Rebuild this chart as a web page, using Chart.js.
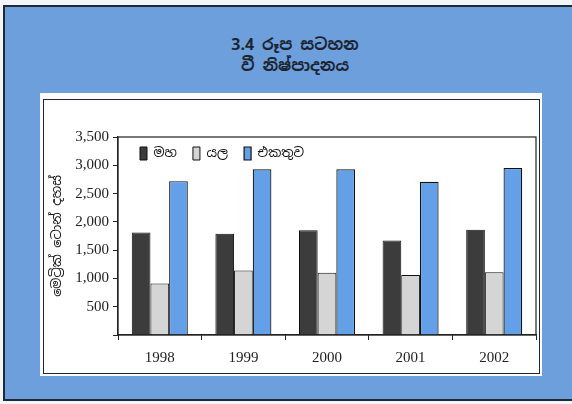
<!DOCTYPE html>
<html>
<head>
<meta charset="utf-8">
<script src="https://cdn.jsdelivr.net/npm/chart.js@4.4.0/dist/chart.umd.min.js"></script>
<style>
  body { margin: 0; background: #f3f5f7; }
  #page { position: relative; width: 572px; height: 404px; overflow: hidden; }
  #frame { position: absolute; left: 3px; top: 5px; width: 567px; height: 392px;
           border: 2px solid #1f2937; border-right: none; background: #6c9fdc; }
  #title { position: absolute; left: 0; top: 34px; width: 590px; text-align: center;
           font: bold 16px 'Noto Sans Sinhala', 'Noto Sans', sans-serif; color: #1d2430; line-height: 21px; }
  #paper { position: absolute; left: 40px; top: 93px; width: 502px; height: 283px; background: #fdfdfd; }
  #box { position: absolute; left: 43px; top: 99px; width: 495px; height: 273px; overflow: hidden;
         border: 1.5px solid #1c2836; background: #fff; }
  canvas { position: absolute; left: 0; top: -6px; }
</style>
</head>
<body>
<div id="page">
  <div id="frame"></div>
  <div id="title">3.4 රූප සටහන<br>වී නිෂ්පාදනය</div>
  <div id="paper"></div>
  <div id="box"><canvas id="canvas" width="495" height="279"></canvas></div>
</div>
<script>
var years = ['1998', '1999', '2000', '2001', '2002'];
var maha = [1810, 1790, 1850, 1670, 1860];
var yala = [910, 1140, 1100, 1060, 1110];
var ekathuwa = [2720, 2930, 2930, 2710, 2950];
var yTicks = [0, 500, 1000, 1500, 2000, 2500, 3000, 3500];

var sinhala = "'Noto Sans Sinhala', 'Noto Sans', sans-serif";
var serif = "'Liberation Serif', 'DejaVu Serif', serif";

// box round the plot, legend pushed down inside it
var frameBox = {
  id: 'frameBox',
  afterLayout: function (chart) {
    var lg = chart.legend, a = chart.chartArea;
    var h = lg.bottom - lg.top;
    lg.left = a.left + 6;
    lg.top = a.top - 6;
    lg.bottom = lg.top + h;
  },
  afterDraw: function (chart) {
    var a = chart.chartArea, ctx = chart.ctx;
    ctx.save();
    ctx.strokeStyle = '#222';
    ctx.lineWidth = 1.2;
    ctx.strokeRect(a.left, a.top, a.right - a.left, a.bottom - a.top);
    ctx.restore();
  }
};

var canvas = document.getElementById('canvas');
var chart = new Chart(canvas, {
  type: 'bar',
  data: {
    labels: years,
    datasets: [
      { label: 'මහ', data: maha, backgroundColor: '#3c3c3c', borderColor: '#111', borderWidth: 1 },
      { label: 'යල', data: yala, backgroundColor: '#d5d5d5', borderColor: '#111', borderWidth: 1 },
      { label: 'එකතුව', data: ekathuwa, backgroundColor: '#63a0e8', borderColor: '#111', borderWidth: 1.2 }
    ]
  },
  options: {
    responsive: false,
    animation: false,
    layout: { padding: { top: 4, right: 3, left: 0, bottom: 0 } },
    datasets: { bar: { categoryPercentage: 0.67, barPercentage: 1.0 } },
    plugins: {
      legend: {
        position: 'top',
        align: 'start',
        labels: { boxWidth: 7, boxHeight: 13, padding: 16, color: '#111',
                  font: { family: sinhala, size: 13 } }
      },
      tooltip: { enabled: false }
    },
    scales: {
      x: {
        grid: { drawOnChartArea: false, tickLength: 5, color: '#222' },
        border: { color: '#222', width: 1.2 },
        ticks: { color: '#222', padding: 9, font: { family: serif, size: 15 } },
        afterFit: function (s) { s.height = 38; }
      },
      y: {
        min: 0, max: 3500,
        afterBuildTicks: function (s) { s.ticks = yTicks.map(function (v) { return { value: v }; }); },
        grid: { drawOnChartArea: false, tickLength: 5, color: '#222' },
        border: { color: '#222', width: 1.2 },
        ticks: {
          color: '#222', padding: 4, font: { family: serif, size: 15 },
          callback: function (v) { return v === 0 ? '' : v.toLocaleString('en-US'); }
        },
        title: { display: true, text: 'මෙට්‍රික් ටොන් දහස්', color: '#111',
                 padding: { top: 6, bottom: 0 }, font: { family: sinhala, size: 13 } },
        afterFit: function (s) { s.width = 74; }
      }
    }
  },
  plugins: [frameBox]
});
</script>
</body>
</html>
